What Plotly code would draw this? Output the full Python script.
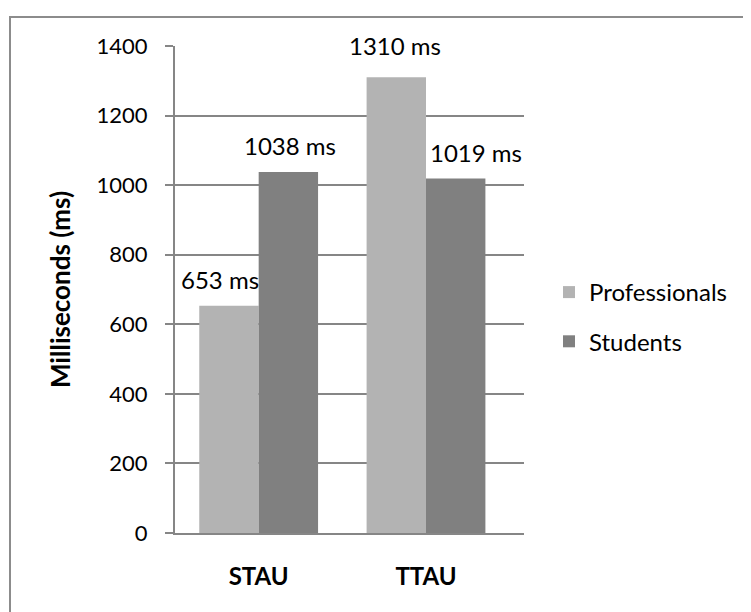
import plotly.graph_objects as go

categories = ["STAU", "TTAU"]
professionals = [653, 1310]
students = [1038, 1019]
series_names = ["Professionals", "Students"]
y_ticks = [0, 200, 400, 600, 800, 1000, 1200, 1400]

FONT = "Lato, 'Open Sans', sans-serif"
# page body has an 8px margin, so the figure is 8px smaller than the window
W, H = 743, 604
L, R, T, B = 167, 227, 38, 79
pw, ph = W - L - R, H - T - B

def px_x(x):
    return (x - L) / pw

def px_y(y):
    return (H - B - y) / ph

fig = go.Figure()
fig.add_trace(go.Bar(
    x=categories, y=professionals, name=series_names[0], legendgroup="p",
    marker=dict(color="#B3B3B3", line=dict(width=0)),
))
fig.add_trace(go.Bar(
    x=categories, y=students, name=series_names[1], legendgroup="s",
    marker=dict(color="#808080", line=dict(width=0)),
))

# data labels (Excel-style, some nudged sideways as in the original)
bar_half = 31
label_specs = [
    (professionals, -bar_half, [-8, 0], [26, 32]),
    (students, bar_half, [0, 19], [26, 26]),
]
for values, base_dx, extra_dx, dys in label_specs:
    for cat, v, ex, dy in zip(categories, values, extra_dx, dys):
        fig.add_annotation(
            x=cat, y=v, xref="x", yref="y", text=f"{v} ms", showarrow=False,
            xshift=base_dx + ex, yshift=dy, yanchor="middle", xanchor="center",
            font=dict(size=24, family=FONT, color="#000000"),
        )

fig.update_layout(
    width=W, height=H,
    margin=dict(l=L, r=R, t=T, b=B, autoexpand=False),
    paper_bgcolor="white", plot_bgcolor="white",
    barmode="group", bargap=0.29, bargroupgap=0,
    font=dict(family=FONT, size=24, color="#000000"),
    showlegend=True,
    legend=dict(x=px_x(541), y=px_y(262), xanchor="left", yanchor="top",
                font=dict(size=24, family=FONT), tracegroupgap=15,
                itemsizing="constant", bgcolor="rgba(0,0,0,0)"),
    xaxis=dict(showline=True, linecolor="#868686", linewidth=2, ticks="",
               tickfont=dict(size=24, family=FONT), showgrid=False,
               tickprefix="<b>", ticksuffix="</b>", ticklabelstandoff=21),
    yaxis=dict(range=[0, 1400], tickvals=y_ticks, showgrid=True,
               gridcolor="#868686", gridwidth=2, showline=True,
               linecolor="#868686", linewidth=2, ticks="outside",
               ticklen=8, tickcolor="#868686", tickwidth=2,
               tickfont=dict(size=22, family=FONT), zeroline=False,
               ticklabelstandoff=13,
               title=dict(text="<b>Milliseconds (ms)</b>", standoff=18,
                          font=dict(size=26, family=FONT))),
)

fig.add_shape(type="rect", xref="paper", yref="paper",
              x0=px_x(2), x1=px_x(780), y0=px_y(640), y1=px_y(9),
              line=dict(color="#8C8C8C", width=2), fillcolor="rgba(0,0,0,0)",
              layer="below")

fig.write_html("out.html")
